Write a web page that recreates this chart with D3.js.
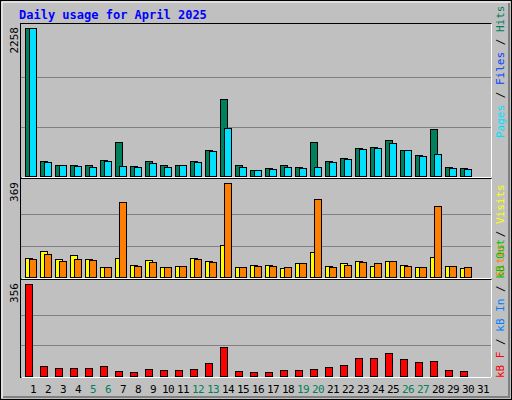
<!DOCTYPE html>
<html><head><meta charset="utf-8">
<script src="https://cdn.jsdelivr.net/npm/d3@7"></script>
<style>body{margin:0;background:#fff}svg{display:block}text{font-family:"DejaVu Sans Mono",monospace}</style>
</head><body><div id="chart"></div>
<script>
// Daily usage data
const days = d3.range(1, 32);
const weekend = [5, 6, 12, 13, 19, 20, 26, 27];
const hits  = [2258,226,164,164,164,241,518,149,226,164,164,226,395,1180,164,87,118,164,133,518,226,272,426,441,549,395,318,718,133,118];
const pages = [2258,210,164,149,133,226,149,133,195,133,164,210,380,734,133,87,103,133,118,133,210,257,411,426,503,395,303,334,118,103];
const visits = [73,101,69,85,69,41,73,49,65,41,45,73,61,125,41,49,49,37,53,97,45,53,61,45,61,49,41,77,45,37];
const sites  = [69,89,61,69,65,41,293,45,57,41,45,69,57,369,41,45,45,41,53,305,41,49,57,53,61,45,41,277,45,41];
const kbytes = [356,39,31,31,31,39,19,15,27,23,23,27,50,112,19,15,15,23,23,27,35,43,70,70,89,66,54,58,23,19];

const W = 512, H = 400;
const svg = d3.select('#chart').append('svg').attr('width', W).attr('height', H);

// frame
svg.append('rect').attr('x', 0.5).attr('y', 0.5).attr('width', W - 1).attr('height', H - 1)
    .attr('fill', '#c0c0c0').attr('stroke', '#000');
svg.append('path').attr('d', `M2,${H-2}V2H${W-2}`).attr('fill', 'none').attr('stroke', '#fff');
svg.append('path').attr('d', `M3,${H-3}H${W-3}V3`).attr('fill', 'none').attr('stroke', '#808080').attr('stroke-width', 2);

svg.append('text').attr('x', 19).attr('y', 19).attr('fill', '#0000ff')
    .style('font-size', '12px').style('font-weight', 'bold').text('Daily usage for April 2025');

const x = d3.scaleBand().domain(days).range([24, 489]);

const panels = [
    { top: 25, bottom: 176, max: 2258 },
    { top: 180, bottom: 277, max: 369 },
    { top: 281, bottom: 376, max: 356 }
];

panels.forEach(p => {
    svg.append('rect').attr('x', 20.5).attr('y', p.top - 1.5).attr('width', 471).attr('height', p.bottom - p.top + 3)
        .attr('fill', 'none').attr('stroke', '#000');
    svg.append('path').attr('d', `M21.5,${p.bottom + 1.5}H491.5V${p.top - 1.5}`).attr('fill', 'none').attr('stroke', '#fff');
    p.y = d3.scaleLinear().domain([0, p.max]).range([p.bottom, p.bottom - (p.bottom - p.top - 3)]);
    [1, 2].forEach(k => {
        const gy = Math.round(p.y(p.max * k / 3)) + 0.5;
        svg.append('line').attr('x1', 21).attr('x2', 491).attr('y1', gy).attr('y2', gy).attr('stroke', '#808080');
    });
    svg.append('text').attr('transform', `translate(18,${p.top + 2}) rotate(-90)`)
        .attr('text-anchor', 'end').style('font-size', '11px').attr('fill', '#000').text(p.max);
});

function bars(vals, p, dx, w, color) {
    svg.append('g').selectAll('rect').data(vals).enter().append('rect')
        .attr('x', (d, i) => x(days[i]) + dx + 0.5)
        .attr('y', d => Math.round(p.y(d)) + 0.5)
        .attr('width', w)
        .attr('height', d => p.bottom - Math.round(p.y(d)))
        .attr('fill', color).attr('stroke', '#000');
}
bars(hits, panels[0], 1, 7, '#00805c');
bars(pages, panels[0], 5, 7, '#00e0ff');
bars(visits, panels[1], 1, 7, '#ffff00');
bars(sites, panels[1], 5, 7, '#ff8000');
bars(kbytes, panels[2], 1, 7, '#ff0000');

// day labels
svg.append('g').selectAll('text').data(days).enter().append('text')
    .attr('x', d => x(d) + 9).attr('y', 393).attr('text-anchor', 'middle')
    .style('font-size', '11px').style('letter-spacing', '-0.5px')
    .attr('fill', d => weekend.includes(d) ? '#00805c' : '#000')
    .text(d => d);

// right side legends
function legend(yBottom, parts) {
    const t = svg.append('text').attr('transform', `translate(504,${yBottom}) rotate(-90)`)
        .style('font-size', '11px').attr('xml:space', 'preserve');
    parts.forEach(([s, c]) => t.append('tspan').attr('fill', c).text(s));
}
legend(138, [['Pages', '#00e0ff'], [' / ', '#000'], ['Files', '#0040ff'], [' / ', '#000'], ['Hits', '#00805c']]);
legend(277, [['Sites', '#ff8000'], [' / ', '#000'], ['Visits', '#ffff00']]);
legend(378, [['kB F', '#ff0000'], [' / ', '#000'], ['kB In', '#0080ff'], [' / ', '#000'], ['kB Out', '#00c000']]);
</script></body></html>
